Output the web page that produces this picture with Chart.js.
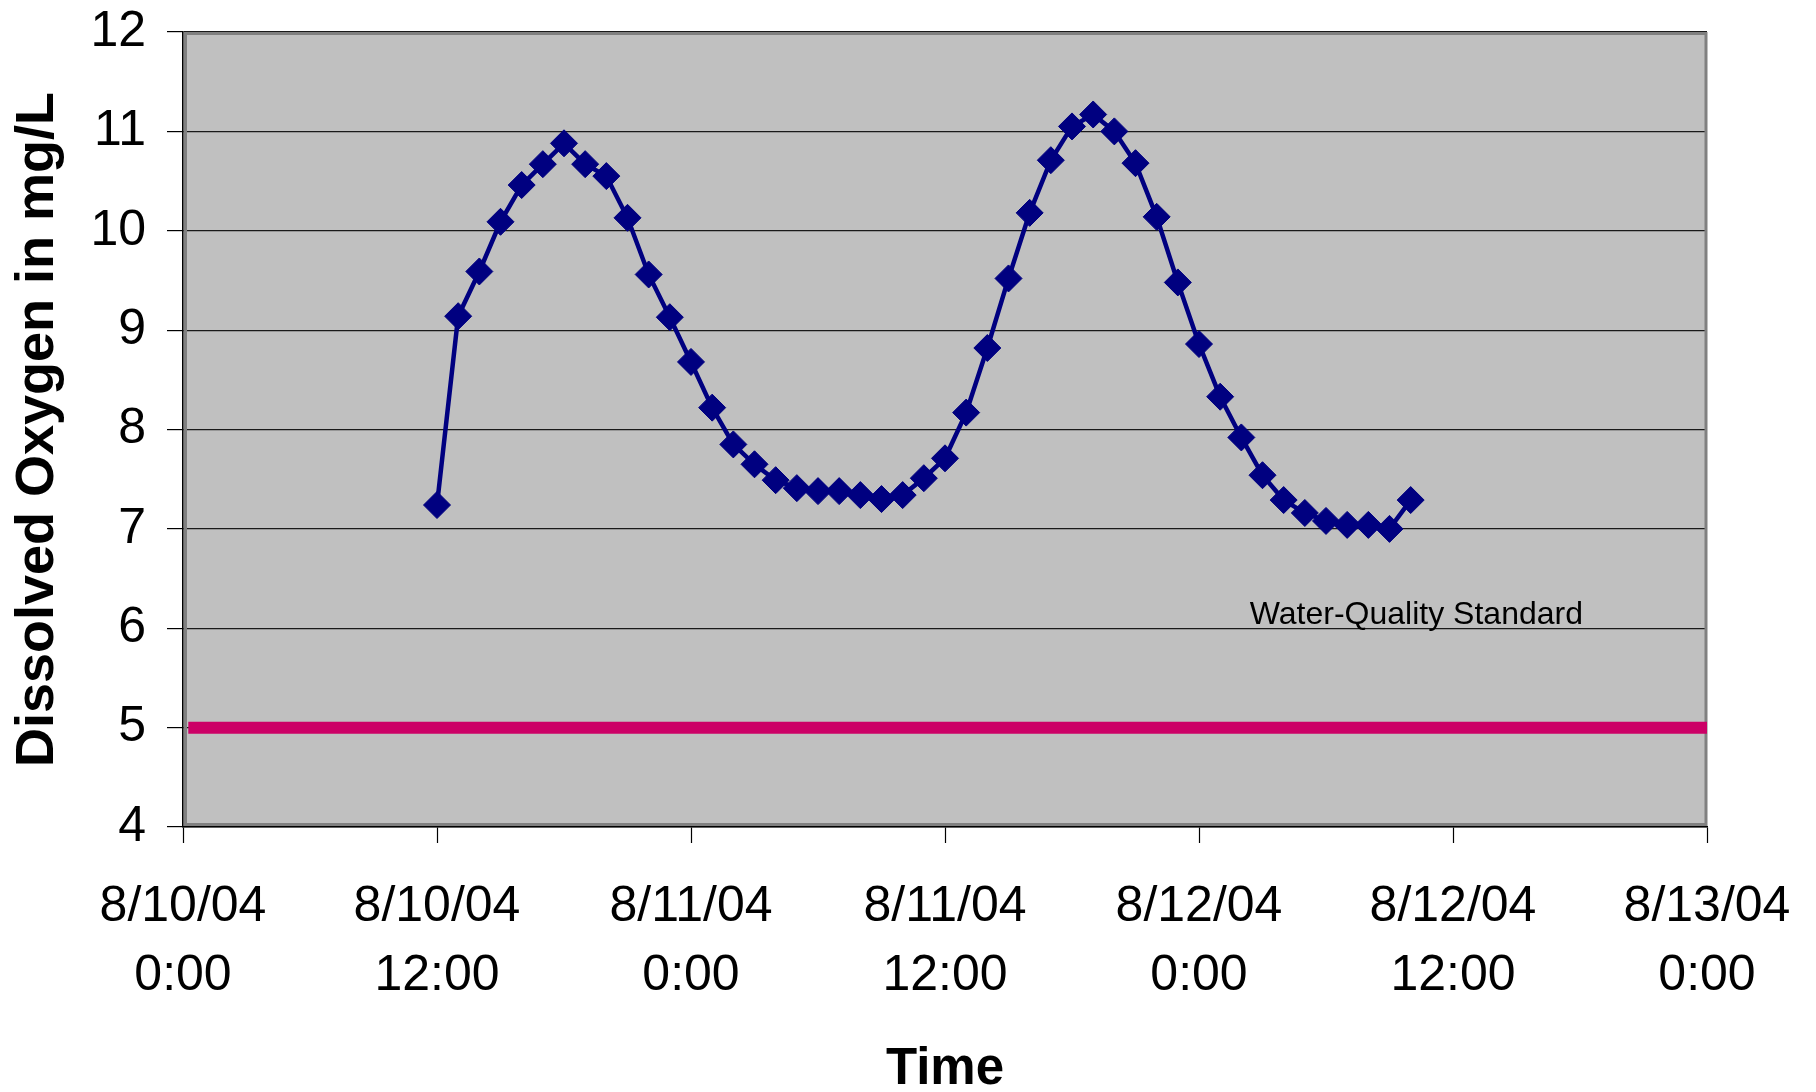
<!DOCTYPE html>
<html>
<head>
<meta charset="utf-8">
<title>Dissolved Oxygen</title>
<script src="https://cdn.jsdelivr.net/npm/chart.js@4.4.1/dist/chart.umd.min.js"></script>
<style>
  html, body { margin: 0; padding: 0; background: #ffffff; }
  #wrap { width: 1816px; height: 1092px; position: relative; }
</style>
</head>
<body>
<div id="wrap"><canvas id="chart"></canvas></div>
<script>
// Hourly readings, in hours after 8/10/04 0:00
const hours = [12, 13, 14, 15, 16, 17, 18, 19, 20, 21, 22, 23, 24, 25, 26, 27, 28, 29, 30,
  31, 32, 33, 34, 35, 36, 37, 38, 39, 40, 41, 42, 43, 44, 45, 46, 47, 48, 49, 50,
  51, 52, 53, 54, 55, 56, 57, 58];
// Dissolved oxygen, mg/L
const oxygen = [7.24, 9.14, 9.59, 10.09, 10.46, 10.67, 10.88, 10.67, 10.55, 10.13, 9.56,
  9.13, 8.68, 8.22, 7.85, 7.65, 7.49, 7.41, 7.38, 7.38, 7.34, 7.30, 7.34, 7.51, 7.71,
  8.17, 8.82, 9.52, 10.18, 10.71, 11.05, 11.17, 11.00, 10.68, 10.14, 9.48, 8.86, 8.33,
  7.92, 7.54, 7.29, 7.16, 7.08, 7.04, 7.04, 7.00, 7.29];

// Water-quality standard line (5 mg/L)
const standardHours = [0.25, 72];
const standardValues = [5, 5];
const standardLabel = 'Water-Quality Standard';
const standardLabelAt = { hour: 50.4, value: 6.04 };

// Axis tick labels
const tickHours = [0, 12, 24, 36, 48, 60, 72];
const tickDates = ['8/10/04', '8/10/04', '8/11/04', '8/11/04', '8/12/04', '8/12/04', '8/13/04'];
const tickTimes = ['0:00', '12:00', '0:00', '12:00', '0:00', '12:00', '0:00'];

const FONT = '"Liberation Sans", Arial, Helvetica, sans-serif';

const plotFrame = {
  id: 'plotFrame',
  beforeDraw(chart) {
    const { ctx, chartArea: a } = chart;
    ctx.save();
    ctx.fillStyle = '#ffffff';
    ctx.fillRect(0, 0, chart.width, chart.height);
    ctx.fillStyle = '#c0c0c0';
    ctx.fillRect(a.left, a.top, a.right - a.left, a.bottom - a.top);
    ctx.restore();
  },
  beforeDatasetsDraw(chart) {
    const { ctx, chartArea: a } = chart;
    ctx.save();
    ctx.strokeStyle = '#808080';
    ctx.lineWidth = 3;
    ctx.strokeRect(a.left + 2.5, a.top + 1.5, a.right - a.left - 3.5, a.bottom - a.top - 4);
    ctx.restore();
  },
  afterDatasetsDraw(chart) {
    const { ctx, scales } = chart;
    ctx.save();
    ctx.font = '32px ' + FONT;
    ctx.fillStyle = '#000000';
    ctx.textAlign = 'left';
    ctx.textBaseline = 'alphabetic';
    ctx.fillText(standardLabel,
      scales.x.getPixelForValue(standardLabelAt.hour),
      scales.y.getPixelForValue(standardLabelAt.value));
    ctx.restore();
  }
};

new Chart(document.getElementById('chart'), {
  type: 'line',
  data: {
    datasets: [
      {
        label: 'Dissolved Oxygen',
        data: hours.map((h, i) => ({ x: h, y: oxygen[i] })),
        borderColor: '#000080',
        backgroundColor: '#000080',
        borderWidth: 4.5,
        pointStyle: 'rectRot',
        pointRadius: 13.5,
        pointBorderWidth: 1,
        pointBackgroundColor: '#000080',
        pointBorderColor: '#000080',
        tension: 0,
        fill: false
      },
      {
        label: standardLabel,
        data: standardHours.map((h, i) => ({ x: h, y: standardValues[i] })),
        borderColor: '#cc0066',
        borderWidth: 12,
        borderCapStyle: 'butt',
        pointRadius: 0,
        fill: false
      }
    ]
  },
  options: {
    responsive: true,
    maintainAspectRatio: false,
    animation: false,
    events: [],
    layout: { padding: { top: 32, right: 109, bottom: 0, left: 0 } },
    plugins: {
      legend: { display: false },
      tooltip: { enabled: false }
    },
    scales: {
      x: {
        type: 'linear',
        min: 0,
        max: 72,
        afterBuildTicks(scale) { scale.ticks = tickHours.map(v => ({ value: v })); },
        afterFit(scale) {
          scale.height = 265;
          scale.paddingLeft = 0;
          scale.paddingRight = 0;
        },
        grid: {
          drawOnChartArea: false,
          drawTicks: true,
          tickLength: 16,
          tickColor: '#000000',
          tickWidth: 1.2
        },
        border: { display: true, color: '#000000', width: 1.5 },
        ticks: {
          autoSkip: false,
          maxRotation: 0,
          minRotation: 0,
          padding: 30,
          color: '#000000',
          font: { family: FONT, size: 50, lineHeight: 1.38 },
          callback(value) {
            const i = tickHours.indexOf(value);
            return i < 0 ? '' : [tickDates[i], tickTimes[i]];
          }
        },
        title: {
          display: true,
          text: 'Time',
          color: '#000000',
          font: { family: FONT, size: 51, weight: 'bold', lineHeight: 0.8 },
          padding: { top: 0, bottom: 2 }
        }
      },
      y: {
        type: 'linear',
        min: 4,
        max: 12,
        afterFit(scale) {
          scale.width = 183;
          scale.paddingTop = 0;
          scale.paddingBottom = 0;
        },
        grid: {
          color: '#1a1a1a',
          lineWidth: 1.2,
          drawTicks: true,
          tickLength: 16,
          tickColor: '#000000',
          tickWidth: 1.2
        },
        border: { display: true, color: '#000000', width: 1.5 },
        ticks: {
          stepSize: 1,
          padding: 21,
          color: '#000000',
          font: { family: FONT, size: 50 }
        },
        title: {
          display: true,
          text: 'Dissolved Oxygen in mg/L',
          color: '#000000',
          font: { family: FONT, size: 54, weight: 'bold', lineHeight: 1.2 },
          padding: { top: 5.5, bottom: 0 }
        }
      }
    }
  },
  plugins: [plotFrame]
});
</script>
</body>
</html>
